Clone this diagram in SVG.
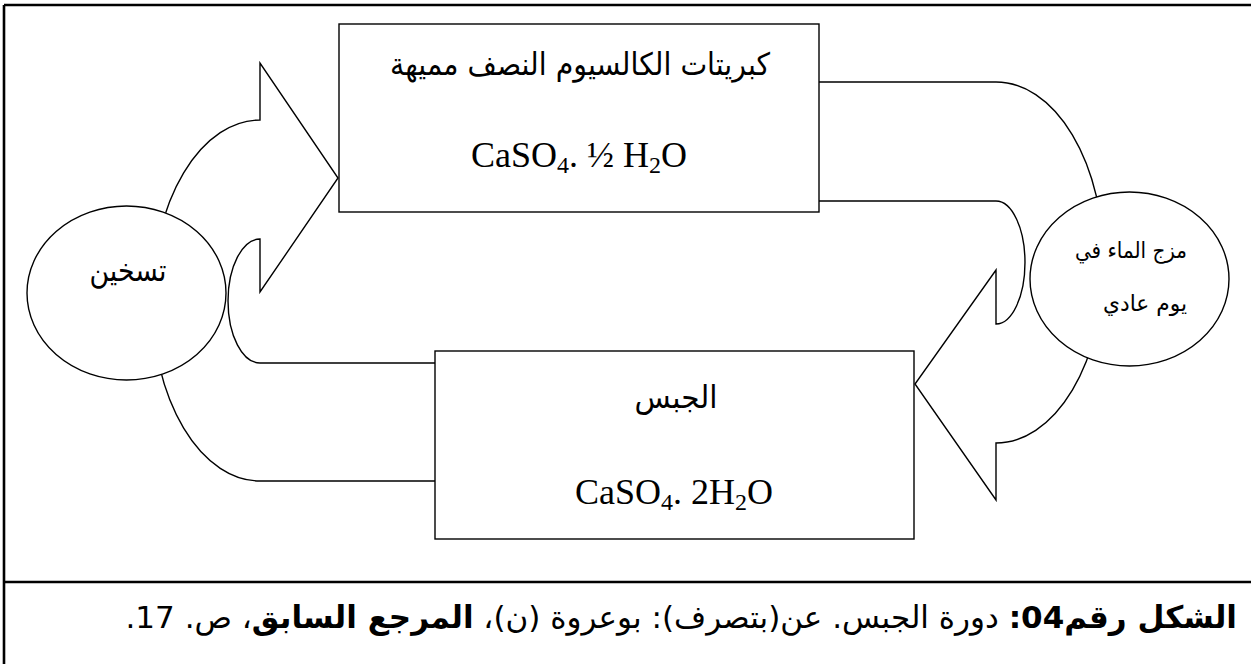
<svg xmlns="http://www.w3.org/2000/svg" width="1251" height="664" viewBox="0 0 1251 664">
<style>
.frame{stroke:#000;stroke-width:2.6;fill:none}
.shape{fill:#fff;stroke:#000;stroke-width:1.4}
.ar{font-family:"DejaVu Sans",sans-serif;fill:#000}
.chem{font-family:"Liberation Serif","Times New Roman",serif;font-size:36px;fill:#000;text-anchor:middle}
.sub{font-size:24px}
.cap{font-family:"DejaVu Sans",sans-serif;font-size:31px;fill:#000}
</style>
<rect width="1251" height="664" fill="#fff"/>
<g id="frame">
<path class="frame" d="M4,5 H1253 M4,5 V666 M4,582 H1253"/>
</g>
<g id="connectors">
<path id="arrow-heat" class="shape" d="M435,481 L260,481 A108,180.5 0 0 1 260,120 L260,63 L338,178 L260,292 L260,239 A32,62 0 0 0 260,363 L435,363"/>
<path id="arrow-mix" class="shape" d="M819,82 L996,82 A108,180.5 0 0 1 996,443 L996,500 L915,384 L996,270 L996,324 A29,61.5 0 0 0 996,201 L819,201"/>
</g>
<g id="node-hemihydrate">
<rect class="shape" x="339" y="24" width="480" height="188"/>
<text class="ar" x="580" y="75" font-size="31" text-anchor="middle" textLength="380" lengthAdjust="spacingAndGlyphs">كبريتات الكالسيوم النصف مميهة</text>
<text class="chem" x="579" y="167">CaSO<tspan class="sub" dy="6">4</tspan><tspan dy="-6">. ½ H</tspan><tspan class="sub" dy="6">2</tspan><tspan dy="-6">O</tspan></text>
</g>
<g id="node-gypsum">
<rect class="shape" x="435" y="351" width="479" height="188"/>
<text class="ar" x="676" y="408" font-size="31" text-anchor="middle" textLength="83" lengthAdjust="spacingAndGlyphs">الجبس</text>
<text class="chem" x="674" y="504">CaSO<tspan class="sub" dy="6">4</tspan><tspan dy="-6">. 2H</tspan><tspan class="sub" dy="6">2</tspan><tspan dy="-6">O</tspan></text>
</g>
<g id="node-heat">
<ellipse class="shape" cx="126.5" cy="293" rx="99.5" ry="87"/>
<text class="ar" x="128" y="281" font-size="31" text-anchor="middle" textLength="77" lengthAdjust="spacingAndGlyphs">تسخين</text>
</g>
<g id="node-water">
<ellipse class="shape" cx="1129.5" cy="279" rx="99.5" ry="87"/>
<text class="ar" x="1131" y="258" font-size="22" text-anchor="middle" textLength="112" lengthAdjust="spacingAndGlyphs">مزج الماء في</text>
<text class="ar" x="1145" y="311" font-size="22" text-anchor="middle" textLength="84" lengthAdjust="spacingAndGlyphs">يوم عادي</text>
</g>
<g id="caption">
<text class="cap" x="1237" y="628" direction="rtl" text-anchor="start"><tspan font-weight="bold">الشكل رقم04:</tspan> دورة الجبس. عن(بتصرف): بوعروة (ن)، <tspan font-weight="bold">المرجع السابق</tspan>، ص. 17.</text>
</g>
</svg>
